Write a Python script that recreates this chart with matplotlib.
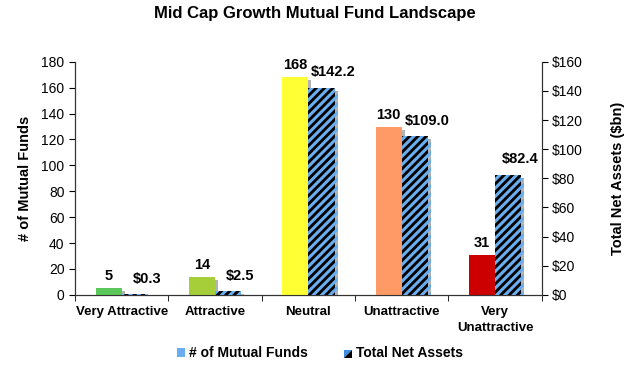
import matplotlib
matplotlib.use('Agg')
import matplotlib.pyplot as plt
import matplotlib.patheffects as pe
from matplotlib.patches import Patch, Polygon
from matplotlib.legend_handler import HandlerBase
import numpy as np

categories = ['Very Attractive', 'Attractive', 'Neutral', 'Unattractive', 'Very\nUnattractive']
num_funds = [5, 14, 168, 130, 31]
net_assets = [0.3, 2.5, 142.2, 109.0, 82.4]
bar_colors = ['#5CC85C', '#A6CE39', '#FFFF33', '#FF9966', '#CC0000']
stripe_blue = '#6AAEF0'

plt.rcParams['font.family'] = ['Liberation Sans', 'DejaVu Sans']
plt.rcParams['hatch.linewidth'] = 2.2


class SplitSquare(HandlerBase):
    # small square: blue upper-left half, black lower-right half
    def create_artists(self, legend, orig, xd, yd, w, h, fontsize, trans):
        up = Polygon([[xd, yd], [xd, yd + h], [xd + w, yd + h]], closed=True,
                     facecolor='#3E8EE0', edgecolor='none', transform=trans)
        lo = Polygon([[xd, yd], [xd + w, yd], [xd + w, yd + h]], closed=True,
                     facecolor='black', edgecolor='none', transform=trans)
        return [up, lo]


fig = plt.figure(figsize=(6.3, 3.68), dpi=100)
ax = fig.add_axes([0.119, 0.199, 0.741, 0.633])
ax2 = ax.twinx()

x = np.arange(len(categories))
w = 0.28
shadow = [pe.SimplePatchShadow(offset=(2.2, -2.2), shadow_rgbFace='#9a9a9a', alpha=0.75), pe.Normal()]

b1 = ax.bar(x - w / 2, num_funds, w, color=bar_colors, edgecolor='none', zorder=3)
for b in b1:
    b.set_path_effects(shadow)
b2 = ax2.bar(x + w / 2, net_assets, w, color='black', edgecolor=stripe_blue, linewidth=0,
             hatch='////', zorder=3)
for b in b2:
    b.set_path_effects(shadow)

for xi, v in zip(x, num_funds):
    ax.annotate(f'{v}', (xi - w / 2, v), xytext=(0, 3.5), textcoords='offset points',
                ha='center', va='bottom', fontsize=10.5, fontweight='bold')
for xi, v in zip(x, net_assets):
    ax2.annotate(f'${v:.1f}', (xi + w / 2 + 0.13, v), xytext=(0, 6), textcoords='offset points',
                 ha='center', va='bottom', fontsize=10.5, fontweight='bold')

ax.set_xlim(-0.5, len(categories) - 0.5)
ax.set_ylim(0, 180)
ax.set_yticks(range(0, 181, 20))
ax2.set_ylim(0, 160)
ax2.set_yticks(range(0, 161, 20))
ax2.set_yticklabels([f'${t}' for t in range(0, 161, 20)])

ax.set_xticks(x)
ax.set_xticklabels(categories, fontsize=9.5, fontweight='bold', linespacing=1.45)
ax.set_xticks(np.arange(-0.5, len(categories), 1), minor=True)
ax.tick_params(axis='x', which='major', length=0, pad=8)
ax.tick_params(axis='x', which='minor', length=4, direction='out')
ax.tick_params(axis='y', labelsize=10, length=4, direction='out')
ax2.tick_params(axis='y', labelsize=10, length=4, direction='out')

for a in (ax, ax2):
    a.spines['top'].set_visible(False)
    for s in ('left', 'right', 'bottom'):
        a.spines[s].set_color('#333333')

ax.set_ylabel('# of Mutual Funds', fontsize=10.5, fontweight='bold', labelpad=7)
ax2.set_ylabel('Total Net Assets ($bn)', fontsize=10.5, fontweight='bold', labelpad=20)

fig.suptitle('Mid Cap Growth Mutual Fund Landscape', x=0.5, y=0.985, fontsize=12,
             fontweight='bold')

handles = [Patch(facecolor=stripe_blue, edgecolor='none'), Patch(facecolor='black')]
fig.legend(handles, ['# of Mutual Funds', 'Total Net Assets'], loc='center',
           bbox_to_anchor=(0.508, 0.04), ncol=2, frameon=False, handlelength=0.55,
           handleheight=0.55, handletextpad=0.3, columnspacing=2.6,
           handler_map={handles[1]: SplitSquare()},
           prop={'weight': 'bold', 'size': 10})

fig.savefig('out.png', dpi=100)
